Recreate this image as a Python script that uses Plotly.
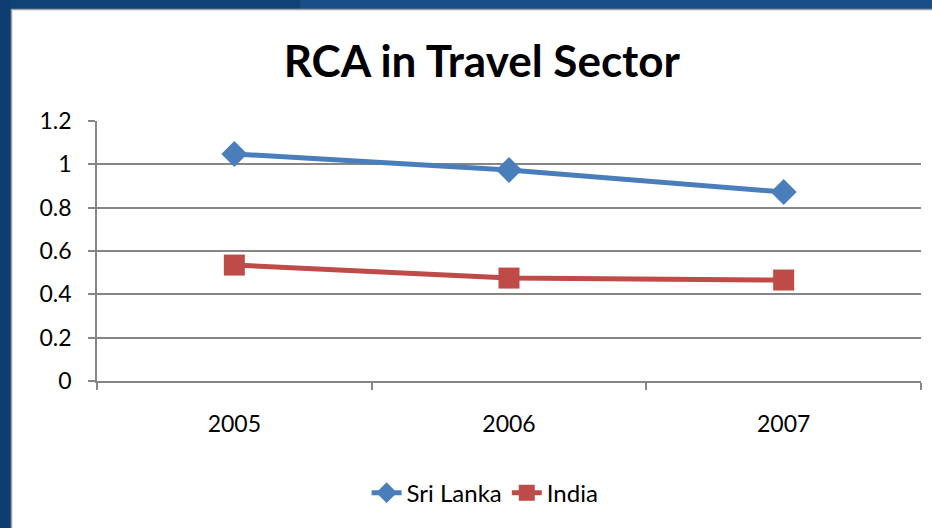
import plotly.graph_objects as go

years = ["2005", "2006", "2007"]
sri_lanka = [1.048, 0.974, 0.872]
india = [0.535, 0.475, 0.466]
y_ticks = [0, 0.2, 0.4, 0.6, 0.8, 1, 1.2]

W, H = 932, 528
L, R, T, B = 97, 11, 121, 147
pw, ph = W - L - R, H - T - B

def px(x): return (x - L) / pw
def py(y): return (H - B - y) / ph

fig = go.Figure()
fig.add_trace(go.Scatter(x=years, y=sri_lanka, name="Sri Lanka", mode="lines+markers",
    line=dict(color="#4A7EBB", width=5),
    marker=dict(symbol="diamond", size=20, color="#4A7EBB")))
fig.add_trace(go.Scatter(x=years, y=india, name="India", mode="lines+markers",
    line=dict(color="#BE4B48", width=5),
    marker=dict(symbol="square", size=21, color="#BE4B48")))

# slide frame: blue bands on top and left edges
shapes = [
    dict(type="rect", xref="paper", yref="paper", x0=px(0), x1=px(W), y0=py(0), y1=py(9),
         fillcolor="#174f86", line_width=0, layer="below"),
    dict(type="rect", xref="paper", yref="paper", x0=px(0), x1=px(300), y0=py(0), y1=py(9),
         fillcolor="#104378", line_width=0, layer="below"),
    dict(type="rect", xref="paper", yref="paper", x0=px(0), x1=px(11), y0=py(0), y1=py(H),
         fillcolor="#0e3d72", line_width=0, layer="below"),
    dict(type="line", xref="paper", yref="paper", x0=px(11), x1=px(W), y0=py(9.5), y1=py(9.5),
         line=dict(color="#a0a0a0", width=1.5), layer="below"),
    dict(type="line", xref="paper", yref="paper", x0=px(11.5), x1=px(11.5), y0=py(9), y1=py(H),
         line=dict(color="#a0a0a0", width=1.5), layer="below"),
]

fig.update_layout(
    width=W, height=H, margin=dict(l=L, r=R, t=T, b=B),
    paper_bgcolor="white", plot_bgcolor="white",
    font=dict(family="Lato, Carlito, sans-serif", color="#000000", size=23),
    title=dict(text="<b>RCA in Travel Sector</b>", x=0.517, xanchor="center", y=0.883, yanchor="middle",
               font=dict(size=44, color="#000000")),
    xaxis=dict(type="category", range=[-0.5, 2.5], tickson="boundaries", ticks="outside", ticklen=7,
               tickcolor="#868686", tickwidth=1.5, showgrid=False, showline=True, linecolor="#868686",
               linewidth=1.5, tickfont=dict(size=23), ticklabelstandoff=22),
    yaxis=dict(range=[0, 1.2], tickvals=y_ticks, ticktext=["0", "0.2", "0.4", "0.6", "0.8", "1", "1.2"],
               ticks="outside", ticklen=7, tickcolor="#868686", tickwidth=1.5,
               showgrid=True, gridcolor="#868686", gridwidth=1.5, zeroline=False,
               showline=True, linecolor="#868686", linewidth=1.5, tickfont=dict(size=23),
               ticklabelstandoff=12),
    legend=dict(orientation="h", x=0.471, xanchor="center", y=-0.431, yanchor="middle",
                font=dict(size=24), bgcolor="rgba(0,0,0,0)"),
    shapes=shapes, showlegend=True,
)

fig.write_html("out.html", config={"displayModeBar": False},
               post_script="document.body.style.margin='0px';")
